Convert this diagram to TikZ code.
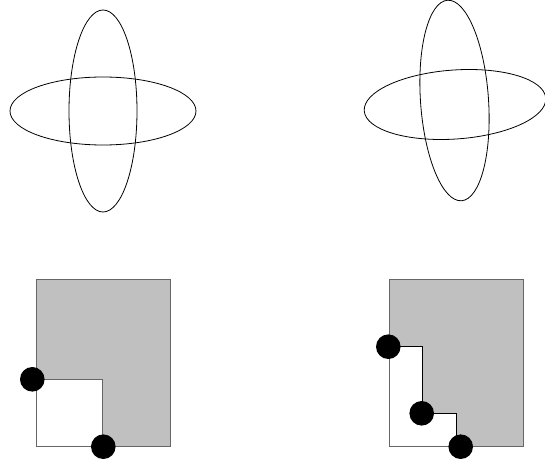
\documentclass[tikz,border=0pt]{standalone}
\begin{document}
\begin{tikzpicture}[x=1pt,y=1pt,
  curve/.style={draw=black, line width=0.8pt},
  region/.style={fill={rgb,255:red,192;green,192;blue,192}},
  edge/.style={draw=black!60, line width=0.9pt},
  stair/.style={draw=black, line width=0.9pt},
  dot/.style={circle, fill=black, inner sep=0pt, minimum size=24.6pt}]
\useasboundingbox (0,0) rectangle (545,464);
% top left
\draw[curve] (103,353) ellipse [x radius=93, y radius=34];
\draw[curve] (103,353) ellipse [x radius=34, y radius=101];
% top right (rotated)
\draw[curve, rotate around={4:(455,359.5)}] (455,359.5) ellipse [x radius=91, y radius=34.5];
\draw[curve, rotate around={4:(454.5,363.5)}] (454.5,363.5) ellipse [x radius=34, y radius=100.5];
% bottom left
\coordinate (a1) at (36,185);
\coordinate (a2) at (170.7,185);
\coordinate (a3) at (170.7,17.3);
\coordinate (a4) at (102.7,17.3);
\coordinate (a5) at (102.7,84.7);
\coordinate (a6) at (36,84.7);
\coordinate (a7) at (36,17.3);
\fill[region] (a1) -- (a2) -- (a3) -- (a4) -- (a5) -- (a6) -- cycle;
\draw[edge] (a1) rectangle (a3);
\draw[edge] (a6) -- (a5) -- (a4);
\node[dot] (p1) at (32.3,84.7) {};
\node[dot] (p2) at (103.3,17.3) {};
% bottom right
\coordinate (b1) at (389,185);
\coordinate (b2) at (523.3,185);
\coordinate (b3) at (523.3,17.3);
\coordinate (b4) at (456,17.3);
\coordinate (b5) at (456,50.7);
\coordinate (b6) at (422.3,50.7);
\coordinate (b7) at (422.3,118);
\coordinate (b8) at (389,118);
\fill[region] (b1) -- (b2) -- (b3) -- (b4) -- (b5) -- (b6) -- (b7) -- (b8) -- cycle;
\draw[edge] (b1) rectangle (b3);
\draw[stair] (b8) -- (b7) -- (b6) -- (b5) -- (b4);
\node[dot] (q1) at (388.3,117.3) {};
\node[dot] (q2) at (421.7,50.7) {};
\node[dot] (q3) at (460.7,17.3) {};
\end{tikzpicture}
\end{document}
